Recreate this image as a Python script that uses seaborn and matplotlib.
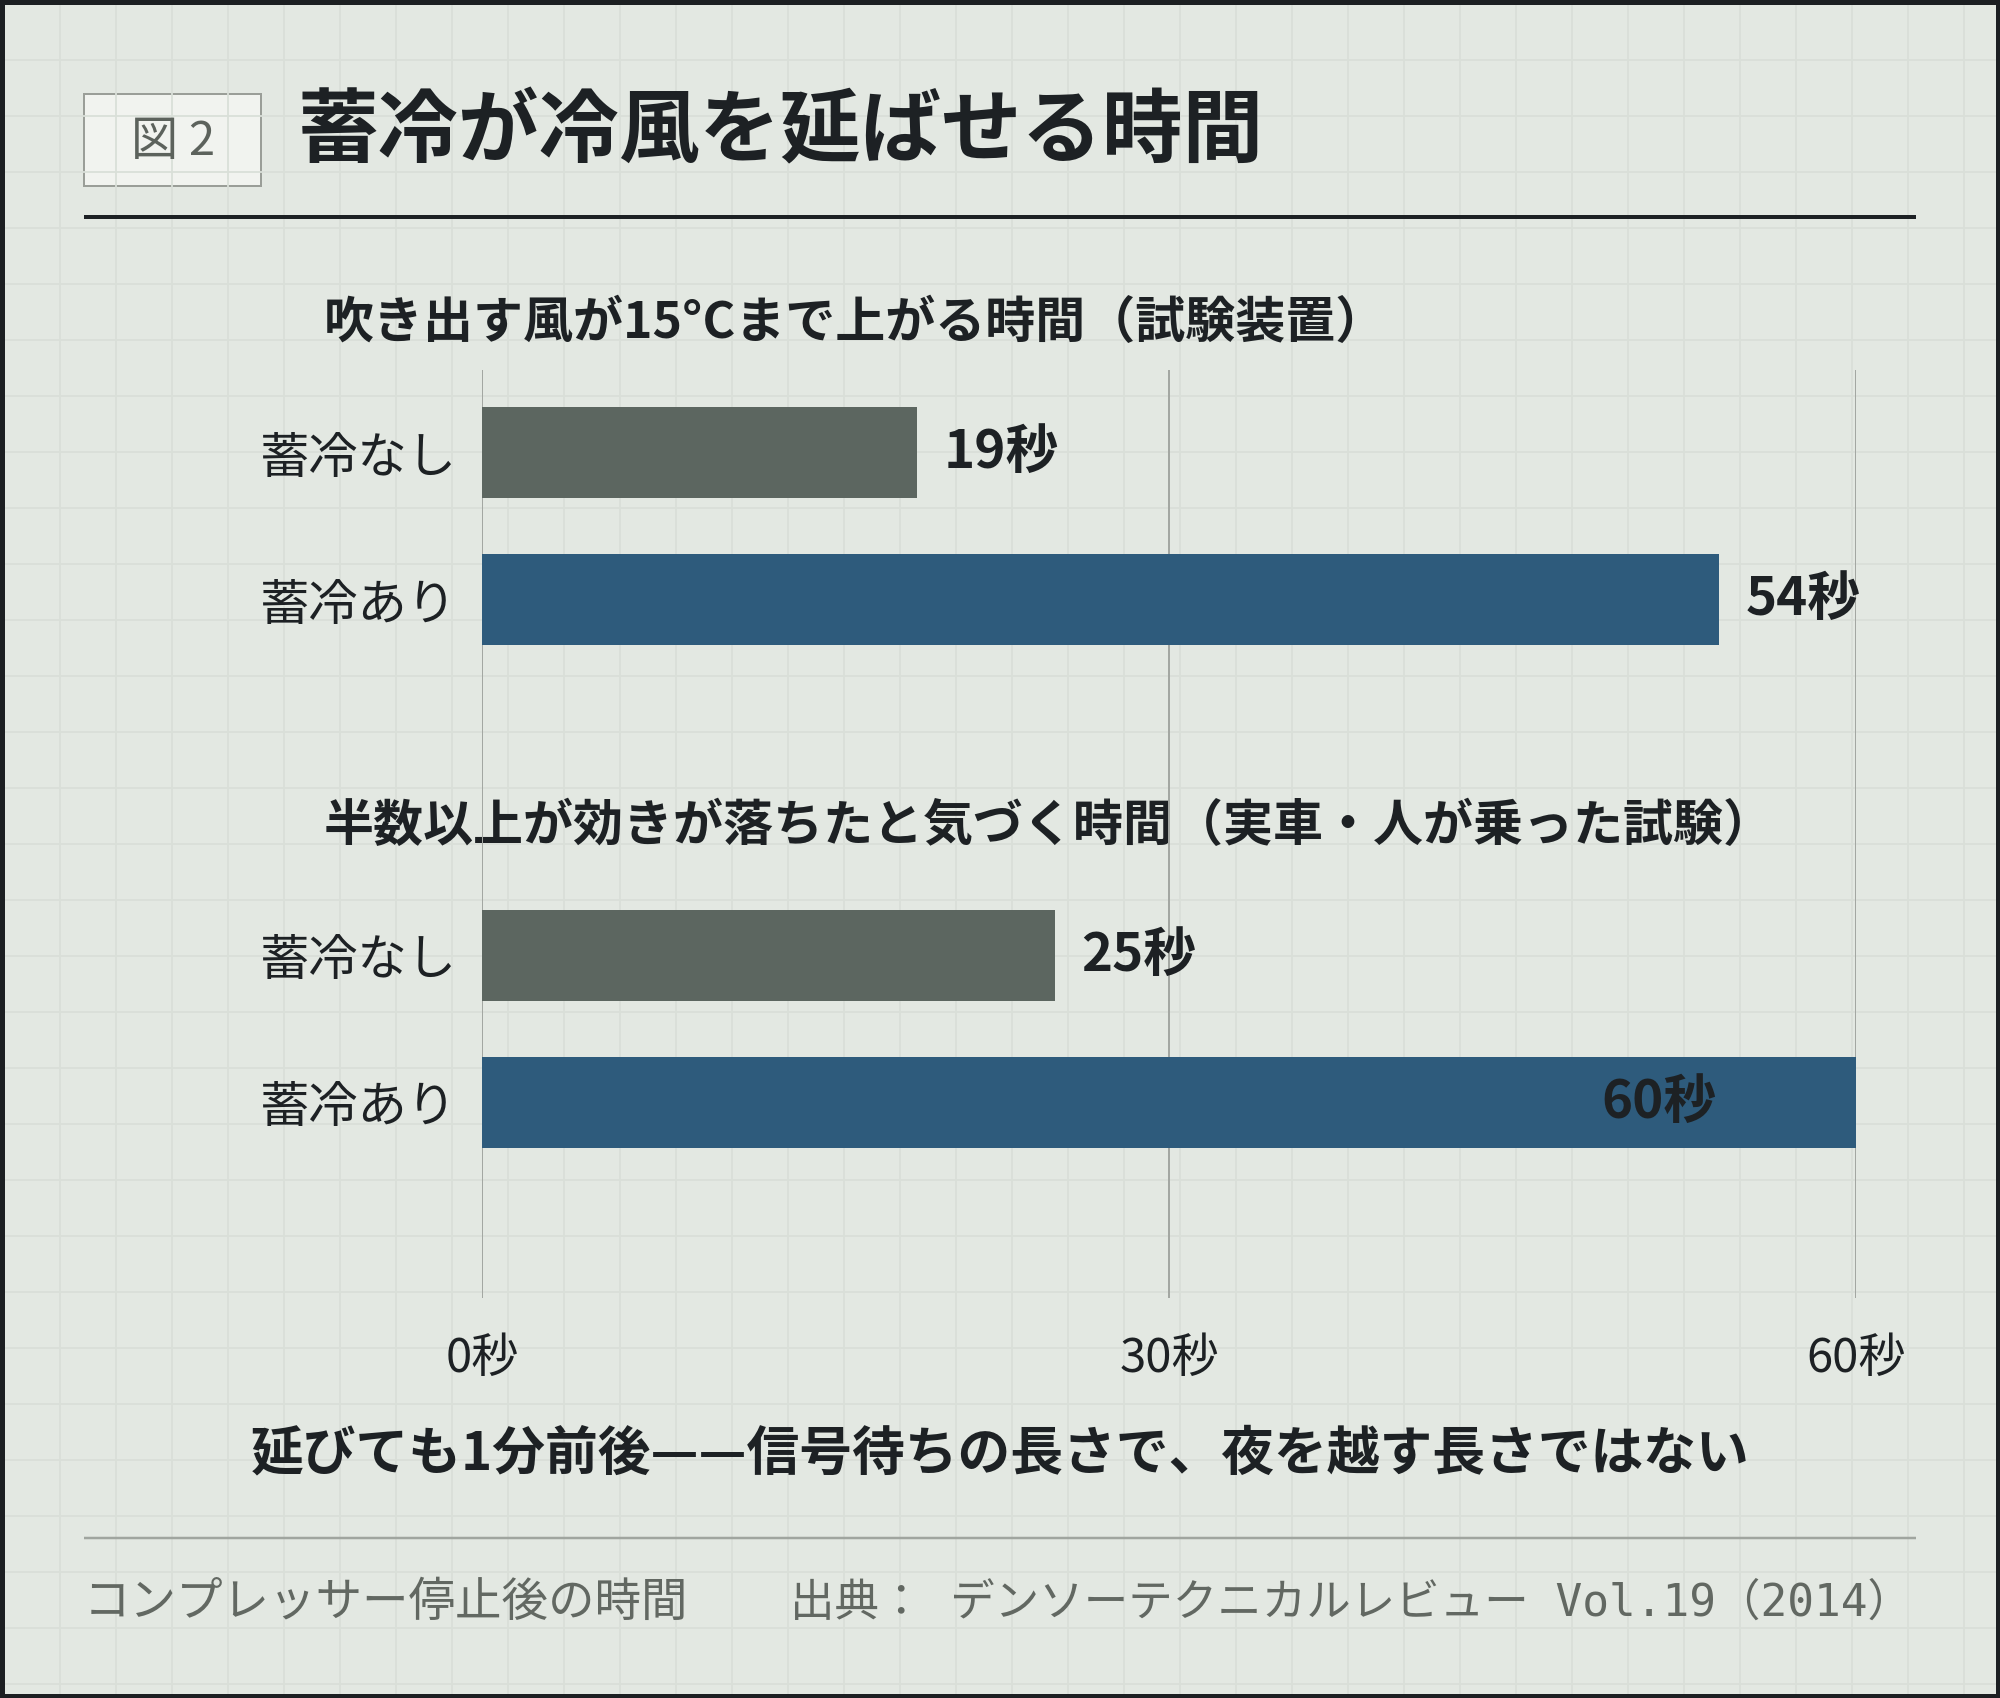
import numpy as np
import pandas as pd
import matplotlib
matplotlib.use('Agg')
import matplotlib.pyplot as plt
import seaborn as sns
from matplotlib.patches import Rectangle

# --- data ---
categories = ['蓄冷なし', '蓄冷あり']
panel_titles = ['吹き出す風が15°Cまで上がる時間（試験装置）',
                '半数以上が効きが落ちたと気づく時間（実車・人が乗った試験）']
rig_seconds = [19, 54]
car_seconds = [25, 60]
x_ticks = [0, 30, 60]
x_tick_labels = ['0秒', '30秒', '60秒']

title = '蓄冷が冷風を延ばせる時間'
fig_label = '図 2'
takeaway = '延びても1分前後——信号待ちの長さで、夜を越す長さではない'
note_left = 'コンプレッサー停止後の時間'
note_right = '出典： デンソーテクニカルレビュー Vol.19（2014）'

# --- style ---
BG = '#e3e8e2'
GRID_BG = '#d9dfd8'
GREY_BAR = '#5c6660'
BLUE_BAR = '#2e5b7c'
INK = '#1d2124'
MUTED = '#626862'
RULE = '#a0a59f'

sns.set_theme(style='white')
plt.rcParams['font.family'] = ['Noto Sans CJK JP', 'DejaVu Sans']

W, H, DPI = 2000, 1698, 100
PT = 72 / DPI  # points per pixel

fig = plt.figure(figsize=(W / DPI, H / DPI), dpi=DPI)
fig.patch.set_facecolor(BG)


def frac(left, top, right, bottom):
    return [left / W, 1 - bottom / H, (right - left) / W, (bottom - top) / H]


# background grid paper, border and frame texts (pixel coordinates)
bg = fig.add_axes([0, 0, 1, 1])
bg.set_xlim(0, W)
bg.set_ylim(H, 0)
bg.axis('off')
bg.vlines(np.arange(60, W - 4, 56), 4, H - 4, color=GRID_BG, lw=1.8 * PT)
bg.hlines(np.arange(60, H - 4, 56), 4, W - 4, color=GRID_BG, lw=1.8 * PT)
bg.add_patch(Rectangle((2, 2), W - 4, H - 4, fill=False, edgecolor='#1c1f22',
                       lw=5 * PT, clip_on=False, zorder=10))

bg.add_patch(Rectangle((84, 94), 177, 92, facecolor='#f1f3ef',
                       edgecolor='#9a9e98', lw=2 * PT))
bg.text(173, 142, fig_label, ha='center', va='center', fontsize=34,
        color='#5c625c')
bg.text(298, 133, title, ha='left', va='center', fontsize=58,
        fontweight='bold', color=INK)
bg.plot([84, 1916], [217, 217], color=INK, lw=4 * PT, solid_capstyle='butt')

bg.text(324, 323, panel_titles[0], ha='left', va='center', fontsize=36,
        fontweight='bold', color=INK)
bg.text(324, 826, panel_titles[1], ha='left', va='center', fontsize=36,
        fontweight='bold', color=INK)

bg.text(1000, 1454, takeaway, ha='center', va='center', fontsize=38,
        fontweight='bold', color=INK)
bg.plot([84, 1916], [1538, 1538], color=RULE, lw=2.5 * PT,
        solid_capstyle='butt')
foot_font = ['DejaVu Sans Mono', 'Noto Sans CJK JP']
bg.text(84, 1603, note_left, ha='left', va='center', fontsize=33.5,
        color=MUTED, family=foot_font)
bg.text(1912, 1603, note_right, ha='right', va='center', fontsize=32,
        color=MUTED, family=foot_font)

# shared value axis with gridlines spanning both panels
X0, X1 = 482, 1856
gax = fig.add_axes(frac(X0, 370, X1, 1298))
gax.set_facecolor('none')
gax.set_xlim(0, 60)
gax.set_yticks([])
for s in gax.spines.values():
    s.set_visible(False)
gax.set_xticks(x_ticks)
gax.set_xticklabels(x_tick_labels, fontsize=34, color=INK)
gax.tick_params(axis='x', length=0, pad=26)
for t in x_ticks:
    gax.axvline(t, color='#a3a7a2', lw=2 * PT, zorder=0)

STEP = 147
BAR_W = 91 / STEP


def panel(values, top_px, bottom_px, row0_px):
    ax = fig.add_axes(frac(X0, top_px, X1, bottom_px))
    df = pd.DataFrame({'label': categories, 'seconds': values})
    sns.barplot(data=df, x='seconds', y='label', hue='label',
                palette=[GREY_BAR, BLUE_BAR], orient='h', width=BAR_W,
                legend=False, ax=ax, saturation=1, linewidth=0)
    ax.set_facecolor('none')
    ax.set_xlim(0, 60)
    ax.set_ylim((bottom_px - row0_px) / STEP, (top_px - row0_px) / STEP)
    ax.set_xlabel('')
    ax.set_ylabel('')
    ax.set_xticks([])
    for s in ax.spines.values():
        s.set_visible(False)
    ax.tick_params(axis='y', length=0, pad=25 * PT, labelsize=35.5,
                   labelcolor=INK)
    for i, v in enumerate(values):
        if v >= 58:
            ax.annotate(f'{v}秒', (v, i), xytext=(-140 * PT, 0),
                        textcoords='offset points', ha='right', va='center',
                        fontsize=38, fontweight='bold', color=INK)
        else:
            ax.annotate(f'{v}秒', (v, i), xytext=(27 * PT, 0),
                        textcoords='offset points', ha='left', va='center',
                        fontsize=38, fontweight='bold', color=INK)
    return ax


panel(rig_seconds, 370, 700, 452.8)
panel(car_seconds, 880, 1298, 955)

fig.savefig('out.png', dpi=DPI, facecolor=BG)
